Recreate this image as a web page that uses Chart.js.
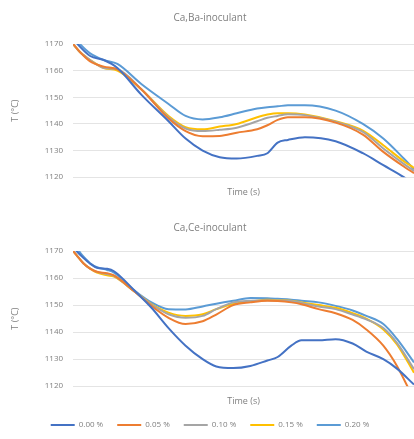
<!DOCTYPE html>
<html>
<head>
<meta charset="utf-8">
<script src="https://cdn.jsdelivr.net/npm/chart.js@4/dist/chart.umd.min.js"></script>
<style>
  body { margin: 0; background: #fff; width: 414px; height: 439px; overflow: hidden; }
  #top { position: absolute; left: 0; top: 0; }
  #bottom { position: absolute; left: 0; top: 200px; }
</style>
</head>
<body>
<canvas id="top" width="414" height="200"></canvas>
<canvas id="bottom" width="414" height="239"></canvas>
<script>
// Series labels and colours (Excel palette)
const seriesNames = ["0.00 %", "0.05 %", "0.10 %", "0.15 %", "0.20 %"];
const seriesColors = ["#4472C4", "#ED7D31", "#A5A5A5", "#FFC000", "#5B9BD5"];
const yTicks = [1120, 1130, 1140, 1150, 1160, 1170];

// Ca,Ba-inoculant
const timeBa = [0, 2, 5, 9, 13, 20, 28, 33, 38, 43, 48, 54, 57, 60, 63, 68, 77, 85, 91, 97, 100];
const ba000 = [1172, 1169, 1165.5, 1164, 1161, 1151, 1141, 1134.5, 1130, 1127.5, 1127, 1128, 1129, 1133, 1134, 1135, 1133.5, 1129, 1124.5, 1120, 1117];
const ba005 = [1170, 1167, 1163.5, 1161.5, 1160.5, 1153, 1142, 1137.3, 1135.4, 1135.5, 1136.7, 1138, 1139.5, 1141.5, 1142.5, 1142.5, 1140.5, 1136, 1129.5, 1124, 1121.5];
const ba010 = [1170, 1167, 1164, 1161, 1160.5, 1153, 1142.5, 1138.3, 1137.3, 1137.8, 1138.6, 1141, 1142.3, 1143, 1143.6, 1143.3, 1140.8, 1137, 1130.8, 1125, 1122.3];
const ba015 = [1170, 1167, 1164, 1161, 1160, 1153, 1143, 1138.8, 1138, 1139, 1140, 1142.5, 1143.5, 1144, 1144, 1143.5, 1141, 1137.5, 1132, 1126, 1123.5];
const ba020 = [1173, 1170, 1166.5, 1164, 1162.5, 1155, 1147.5, 1143, 1141.7, 1142.5, 1144, 1145.8, 1146.3, 1146.6, 1147, 1147, 1145, 1140, 1134.5, 1127, 1123];

// Ca,Ce-inoculant
const timeCe = [0, 1, 3, 5, 7, 10, 12, 18, 23, 28, 33, 38, 42, 47, 52, 57, 60, 64, 67, 72, 77, 82, 86, 91, 95, 100];
const ce000 = [1171.5, 1170, 1167.5, 1165.3, 1163.8, 1163.4, 1162.5, 1155.4, 1149, 1141.5, 1135, 1130, 1127.3, 1126.7, 1127.5, 1129.5, 1130.8, 1135, 1137, 1137, 1137.4, 1135.8, 1132.8, 1130, 1126.5, 1120.6];
const ce005 = [1170, 1168.5, 1165.5, 1163.5, 1162.3, 1161.8, 1161, 1155, 1149.7, 1145.3, 1143, 1144, 1146.5, 1150, 1151, 1151.6, 1151.5, 1151, 1150.3, 1148.5, 1147, 1144.5, 1141, 1135, 1127.5, 1115];
const ce010 = [1170, 1168.5, 1165.5, 1163.5, 1162.3, 1161.5, 1160.8, 1155, 1150.2, 1146.6, 1145.3, 1146, 1148.5, 1151, 1151.6, 1151.8, 1151.7, 1151.5, 1150.8, 1149.5, 1148.5, 1146.5, 1144.7, 1141.5, 1136, 1126.3];
const ce015 = [1170, 1168.5, 1165.5, 1163.5, 1162, 1161, 1160.5, 1155, 1150.4, 1147.2, 1146, 1146.6, 1148.5, 1150.4, 1151.3, 1152, 1151.8, 1151.6, 1151, 1150, 1149, 1147, 1145, 1141, 1135.5, 1125];
const ce020 = [1172, 1171, 1168, 1165.5, 1164, 1163, 1162, 1155.4, 1151, 1148.5, 1148.4, 1149.5, 1150.5, 1151.6, 1152.6, 1152.5, 1152.3, 1152, 1151.6, 1151, 1149.7, 1148, 1146, 1143, 1137.5, 1128.8];

const FONT = "'Open Sans', 'Liberation Sans', sans-serif";
const TXT = "#7f7f7f";

function makeSets(time, series) {
  return series.map((vals, i) => ({
    label: seriesNames[i],
    data: vals.map((v, k) => ({ x: time[k], y: v })),
    borderColor: seriesColors[i],
    backgroundColor: seriesColors[i],
    borderWidth: 2,
    pointRadius: 0,
    tension: 0.4,
    cubicInterpolationMode: "monotone"
  }));
}

function makeChart(id, title, time, series, showLegend, pad, titlePad) {
  return new Chart(document.getElementById(id), {
    type: "line",
    data: { datasets: makeSets(time, series) },
    options: {
      responsive: false,
      animation: false,
      layout: { padding: pad },
      plugins: {
        title: { display: true, text: title, color: TXT, font: { family: FONT, size: 10, weight: "normal" }, padding: titlePad },
        legend: {
          display: showLegend,
          position: "bottom",
          labels: { usePointStyle: true, pointStyle: "line", pointStyleWidth: 24, boxWidth: 24, color: TXT, font: { family: FONT, size: 8 }, padding: 14 }
        },
        tooltip: { enabled: false }
      },
      scales: {
        x: {
          type: "linear", min: 0, max: 100,
          grid: { display: false }, border: { display: false },
          ticks: { display: false },
          title: { display: true, text: "Time (s)", color: TXT, font: { family: FONT, size: 9 }, padding: { top: 2, bottom: 0 } }
        },
        y: {
          min: 1120, max: 1170,
          afterBuildTicks: (ax) => { ax.ticks = yTicks.map(v => ({ value: v })); },
          grid: { color: "#e4e4e4", drawTicks: false },
          border: { display: false },
          ticks: { color: TXT, font: { family: FONT, size: 8 }, padding: 10, callback: (v) => String(v) },
          title: { display: true, text: "T (°C)", color: TXT, font: { family: FONT, size: 9 }, padding: { top: 4, bottom: 14 } }
        }
      }
    }
  });
}

makeChart("top", "Ca,Ba-inoculant", timeBa, [ba000, ba005, ba010, ba015, ba020], false,
  { left: 6, right: 0, top: 0, bottom: 2 }, { top: 12, bottom: 20 });
makeChart("bottom", "Ca,Ce-inoculant", timeCe, [ce000, ce005, ce010, ce015, ce020], true,
  { left: 6, right: 0, top: 12, bottom: 0 }, { top: 10, bottom: 17 });
</script>
</body>
</html>
